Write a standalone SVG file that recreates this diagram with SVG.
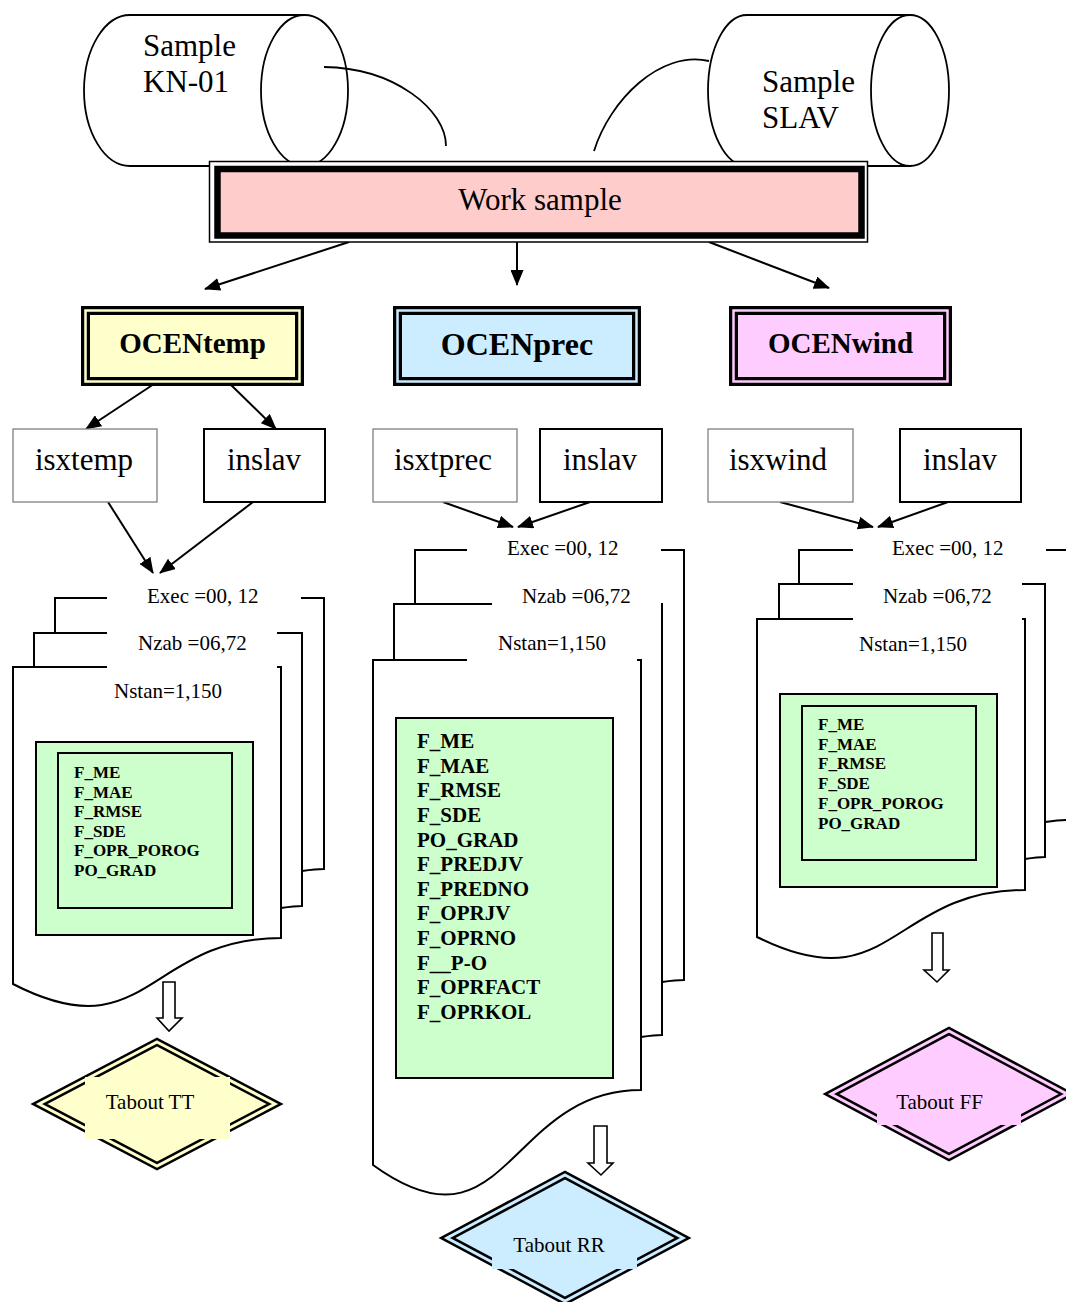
<svg xmlns="http://www.w3.org/2000/svg" width="1066" height="1302" viewBox="0 0 1066 1302">
  <defs>
    <marker id="arrow" markerUnits="userSpaceOnUse" markerWidth="16" markerHeight="13" refX="15" refY="6.5" orient="auto">
      <path d="M0,0 L16,6.5 L0,13 Z" fill="#000"/>
    </marker>
    <style>
      text { font-family: "Liberation Serif", "Times New Roman", serif; fill: #000; }
      .cyl { fill: #fff; stroke: #000; stroke-width: 1.8; }
      .big { font-size: 31px; }
      .hdr { font-weight: bold; text-anchor: middle; }
      .src { fill: #fff; stroke: #808080; stroke-width: 1.3; }
      .ins { fill: #fff; stroke: #000; stroke-width: 2; }
      .box { text-anchor: middle; font-size: 31px; }
      .sheet { fill: #fff; stroke: #000; stroke-width: 2; }
      .gap { fill: #fff; stroke: none; }
      .lbl { font-size: 21px; }
      .green { fill: #ccffcc; stroke: #000; stroke-width: 2; }
      .inner { fill: none; stroke: #000; stroke-width: 2; }
      .fn { font-weight: bold; }
      .fat { fill: #fff; stroke: #000; stroke-width: 1.6; }
      .out { font-size: 21px; text-anchor: middle; }
      .edge { fill: none; stroke: #000; stroke-width: 2; marker-end: url(#arrow); }
      .curve { fill: none; stroke: #000; stroke-width: 1.8; }
      .dbl { stroke: #000; stroke-width: 8; stroke-linejoin: miter; }
      .mid { fill: none; stroke-width: 3; stroke-linejoin: miter; }
    </style>
  </defs>

  <!-- input samples (cylinders) -->
  <g id="sample-kn01">
    <path class="cyl" d="M130,15 L304.5,15 L304.5,166 L130,166 A46,75.5 0 0 1 130,15 Z"/>
    <ellipse class="cyl" cx="304.5" cy="90.5" rx="43.5" ry="75.5"/>
    <text class="big" x="143" y="56">Sample</text>
    <text class="big" x="143" y="92">KN-01</text>
  </g>
  <g id="sample-slav">
    <path class="cyl" d="M747,15 L910,15 L910,166 L747,166 A39,75.5 0 0 1 747,15 Z"/>
    <ellipse class="cyl" cx="910" cy="90.5" rx="39" ry="75.5"/>
    <text class="big" x="762" y="92">Sample</text>
    <text class="big" x="762" y="128">SLAV</text>
  </g>

  <g id="connectors">
    <path class="curve" d="M324,67 C395,68 446,110 446,146"/>
    <path class="curve" d="M709,61 C660,50 610,100 594,151"/>
    <line class="edge" x1="349" y1="242" x2="205" y2="289"/>
    <line class="edge" x1="517" y1="242" x2="517" y2="285"/>
    <line class="edge" x1="709" y1="242" x2="829" y2="288"/>
    <line class="edge" x1="157" y1="382" x2="86" y2="429"/>
    <line class="edge" x1="228" y1="382" x2="276" y2="429"/>
    <line class="edge" x1="108" y1="502" x2="153" y2="573"/>
    <line class="edge" x1="253" y1="502" x2="160" y2="573"/>
    <line class="edge" x1="443" y1="502" x2="513" y2="527"/>
    <line class="edge" x1="590" y1="502" x2="518" y2="527"/>
    <line class="edge" x1="780" y1="502" x2="873" y2="527"/>
    <line class="edge" x1="948" y1="502" x2="878" y2="527"/>
  </g>

  <!-- merged work sample -->
  <g id="work-sample">
    <rect x="209.5" y="161.5" width="658" height="80.5" fill="#fff" stroke="#000" stroke-width="1.5"/>
    <rect x="217.5" y="169" width="644" height="66.5" fill="#ffcccc" stroke="#000" stroke-width="6.5"/>
    <text class="big" x="540" y="210" text-anchor="middle">Work sample</text>
  </g>

  <!-- evaluation programs -->
  <g id="ocentemp">
    <rect x="85.5" y="310.5" width="214" height="71" fill="#ffffcc" stroke="#000" stroke-width="9"/>
    <rect x="85.5" y="310.5" width="214" height="71" fill="none" stroke="#ffffcc" stroke-width="2.5"/>
    <text class="hdr" x="192.5" y="353" font-size="29">OCENtemp</text>
  </g>
  <g id="ocenprec">
    <rect x="397.5" y="310.5" width="239" height="71" fill="#ccecff" stroke="#000" stroke-width="9"/>
    <rect x="397.5" y="310.5" width="239" height="71" fill="none" stroke="#ccecff" stroke-width="2.5"/>
    <text class="hdr" x="517" y="355" font-size="32">OCENprec</text>
  </g>
  <g id="ocenwind">
    <rect x="733.5" y="310.5" width="214" height="71" fill="#ffccff" stroke="#000" stroke-width="9"/>
    <rect x="733.5" y="310.5" width="214" height="71" fill="none" stroke="#ffccff" stroke-width="2.5"/>
    <text class="hdr" x="840.5" y="353" font-size="29">OCENwind</text>
  </g>

  <!-- input files -->
  <g id="isxtemp">
    <rect class="src" x="13" y="429" width="144" height="73"/>
    <text class="box" x="84" y="470">isxtemp</text>
  </g>
  <g id="inslav-temp">
    <rect class="ins" x="204" y="429" width="121" height="73"/>
    <text class="box" x="264" y="470">inslav</text>
  </g>
  <g id="isxtprec">
    <rect class="src" x="373" y="429" width="144" height="73"/>
    <text class="box" x="443" y="470">isxtprec</text>
  </g>
  <g id="inslav-prec">
    <rect class="ins" x="540" y="429" width="122" height="73"/>
    <text class="box" x="600" y="470">inslav</text>
  </g>
  <g id="isxwind">
    <rect class="src" x="708" y="429" width="145" height="73"/>
    <text class="box" x="778" y="470">isxwind</text>
  </g>
  <g id="inslav-wind">
    <rect class="ins" x="900" y="429" width="121" height="73"/>
    <text class="box" x="960" y="470">inslav</text>
  </g>

  <!-- result stack: temperature -->
  <g id="stack-temp">
    <path class="sheet" d="M55,633 L55,598 L324,598 L324,869 C316,869 302,871 302,871"/>
    <path class="sheet" d="M34,667 L34,633 L302,633 L302,906 C295,906 281,908 281,908"/>
    <path class="sheet" d="M13,667 L281,667 L281,938 C147,938 147,1053 13,984 Z"/>
    <rect class="gap" x="107" y="585" width="194" height="27"/>
    <rect class="gap" x="107" y="621" width="170" height="24"/>
    <rect class="gap" x="107" y="656" width="170" height="22"/>
    <text class="lbl" x="147" y="603">Exec =00, 12</text>
    <text class="lbl" x="138" y="650">Nzab =06,72</text>
    <text class="lbl" x="114" y="698">Nstan=1,150</text>
    <rect class="green" x="36" y="742" width="217" height="193"/>
    <rect class="inner" x="58" y="753" width="174" height="155"/>
    <g class="fn" font-size="17">
      <text x="74" y="778">F_ME</text>
      <text x="74" y="798">F_MAE</text>
      <text x="74" y="817">F_RMSE</text>
      <text x="74" y="837">F_SDE</text>
      <text x="74" y="856">F_OPR_POROG</text>
      <text x="74" y="876">PO_GRAD</text>
    </g>
  </g>

  <!-- result stack: precipitation -->
  <g id="stack-prec">
    <path class="sheet" d="M415,604 L415,550 L684,550 L684,980 C676,980 662,982 662,982"/>
    <path class="sheet" d="M394,660 L394,604 L662,604 L662,1035 C655,1035 641,1037 641,1037"/>
    <path class="sheet" d="M373,660 L641,660 L641,1090 C507,1090 507,1262 373,1165 Z"/>
    <rect class="gap" x="467" y="537" width="194" height="26"/>
    <rect class="gap" x="492" y="591" width="169" height="26"/>
    <rect class="gap" x="467" y="647" width="170" height="24"/>
    <text class="lbl" x="507" y="555">Exec =00, 12</text>
    <text class="lbl" x="522" y="603">Nzab =06,72</text>
    <text class="lbl" x="498" y="650">Nstan=1,150</text>
    <rect class="green" x="396" y="718" width="217" height="360"/>
    <g class="fn" font-size="21">
      <text x="417" y="748">F_ME</text>
      <text x="417" y="773">F_MAE</text>
      <text x="417" y="797">F_RMSE</text>
      <text x="417" y="822">F_SDE</text>
      <text x="417" y="847">PO_GRAD</text>
      <text x="417" y="871">F_PREDJV</text>
      <text x="417" y="896">F_PREDNO</text>
      <text x="417" y="920">F_OPRJV</text>
      <text x="417" y="945">F_OPRNO</text>
      <text x="417" y="970">F__P-O</text>
      <text x="417" y="994">F_OPRFACT</text>
      <text x="417" y="1019">F_OPRKOL</text>
    </g>
  </g>

  <!-- result stack: wind -->
  <g id="stack-wind">
    <path class="sheet" d="M799,584 L799,550 L1068,550 L1068,820 C1060,820 1045,822 1045,822"/>
    <path class="sheet" d="M779,619 L779,584 L1045,584 L1045,857 C1038,857 1025,859 1025,859"/>
    <path class="sheet" d="M757,619 L1025,619 L1025,890 C891,890 891,1004 757,937 Z"/>
    <rect class="gap" x="853" y="537" width="193" height="26"/>
    <rect class="gap" x="853" y="572" width="169" height="24"/>
    <rect class="gap" x="853" y="607" width="169" height="22"/>
    <text class="lbl" x="892" y="555">Exec =00, 12</text>
    <text class="lbl" x="883" y="603">Nzab =06,72</text>
    <text class="lbl" x="859" y="651">Nstan=1,150</text>
    <rect class="green" x="780" y="694" width="217" height="193"/>
    <rect class="inner" x="802" y="706" width="174" height="154"/>
    <g class="fn" font-size="17">
      <text x="818" y="730">F_ME</text>
      <text x="818" y="750">F_MAE</text>
      <text x="818" y="769">F_RMSE</text>
      <text x="818" y="789">F_SDE</text>
      <text x="818" y="809">F_OPR_POROG</text>
      <text x="818" y="829">PO_GRAD</text>
    </g>
  </g>

  <!-- output arrows -->
  <g id="to-tabout-tt">
    <polygon class="fat" points="163,982 175,982 175,1018 182,1018 169,1031 157,1018 163,1018"/>
  </g>
  <g id="to-tabout-rr">
    <polygon class="fat" points="594,1126 607,1126 607,1163 613,1163 601,1175 588,1163 594,1163"/>
  </g>
  <g id="to-tabout-ff">
    <polygon class="fat" points="932,933 943,933 943,970 949,970 937,982 924,970 932,970"/>
  </g>

  <!-- output tables -->
  <g id="tabout-tt">
    <path class="dbl" d="M157,1042 L275,1104 L157,1166 L39,1104 Z" fill="#ffffcc"/>
    <path class="mid" d="M157,1042 L275,1104 L157,1166 L39,1104 Z" stroke="#ffffcc"/>
    <rect x="85" y="1077" width="145" height="62" fill="#ffffcc"/>
    <text class="out" x="150" y="1109">Tabout TT</text>
  </g>
  <g id="tabout-rr">
    <path class="dbl" d="M565,1175 L683,1238 L565,1301 L447,1238 Z" fill="#ccecff"/>
    <path class="mid" d="M565,1175 L683,1238 L565,1301 L447,1238 Z" stroke="#ccecff"/>
    <rect x="492" y="1219" width="145" height="50" fill="#ccecff"/>
    <text class="out" x="559" y="1252">Tabout RR</text>
  </g>
  <g id="tabout-ff">
    <path class="dbl" d="M949,1031 L1067,1094 L949,1157 L831,1094 Z" fill="#ffccff"/>
    <path class="mid" d="M949,1031 L1067,1094 L949,1157 L831,1094 Z" stroke="#ffccff"/>
    <rect x="877" y="1074" width="144" height="51" fill="#ffccff"/>
    <text class="out" x="939.5" y="1109">Tabout FF</text>
  </g>
</svg>
